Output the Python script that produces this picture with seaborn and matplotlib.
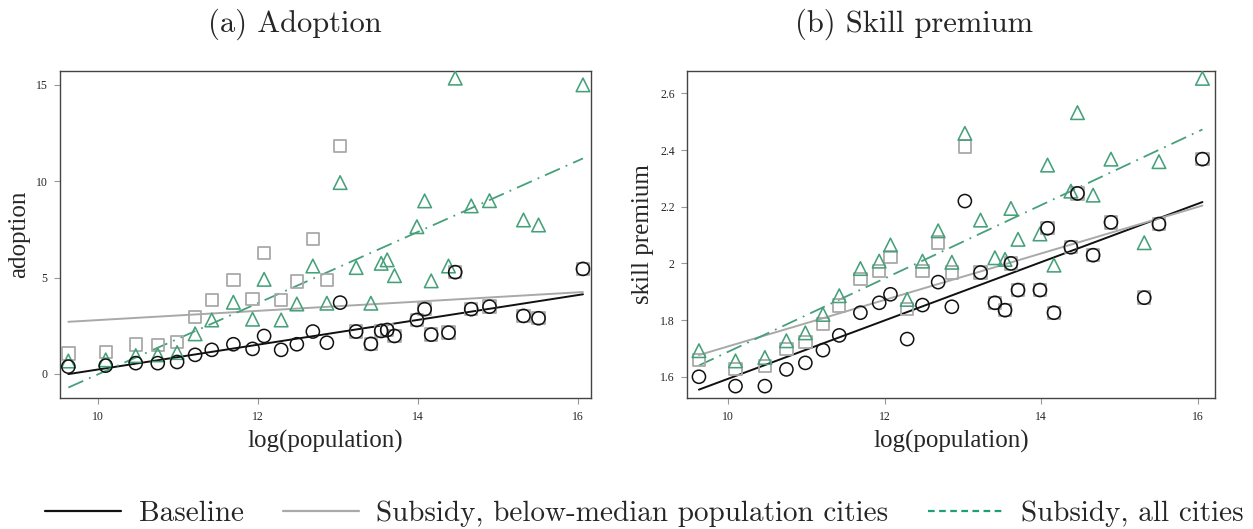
import matplotlib
matplotlib.use("Agg")
import matplotlib.pyplot as plt
from matplotlib.lines import Line2D
from matplotlib.ticker import FuncFormatter
import seaborn as sns
import pandas as pd

sns.set_style("white")
plt.rcParams["font.family"] = ["Liberation Serif", "DejaVu Serif"]

# log population of the 30 cities
log_pop = [9.629, 10.096, 10.471, 10.746, 10.988, 11.213, 11.421, 11.691, 11.931, 12.075,
           12.288, 12.484, 12.684, 12.859, 13.025, 13.225, 13.409, 13.538, 13.613, 13.704,
           13.984, 14.081, 14.163, 14.379, 14.463, 14.663, 14.891, 15.316, 15.504, 16.059]

# adoption
adopt_base = [0.38, 0.43, 0.56, 0.56, 0.62, 0.99, 1.25, 1.54, 1.30, 1.97,
              1.25, 1.54, 2.20, 1.62, 3.70, 2.20, 1.56, 2.23, 2.28, 1.97,
              2.80, 3.36, 2.04, 2.14, 5.28, 3.36, 3.49, 3.01, 2.89, 5.45]
adopt_sub_below = [1.07, 1.13, 1.52, 1.50, 1.66, 2.94, 3.84, 4.86, 3.88, 6.29,
                   3.84, 4.79, 7.01, 4.88, 11.83, 2.20, 1.56, 2.23, 2.28, 1.97,
                   2.80, 3.36, 2.04, 2.14, 5.28, 3.36, 3.49, 3.01, 2.89, 5.45]
adopt_sub_all = [0.67, 0.73, 0.95, 0.99, 1.11, 2.08, 2.80, 3.72, 2.84, 4.91,
                 2.80, 3.63, 5.60, 3.67, 9.93, 5.52, 3.67, 5.74, 5.92, 5.10,
                 7.64, 8.98, 4.83, 5.60, 15.35, 8.72, 8.99, 7.99, 7.73, 15.00]

# skill premium
skill_base = [1.600, 1.567, 1.567, 1.626, 1.649, 1.694, 1.746, 1.826, 1.861, 1.891,
              1.733, 1.853, 1.934, 1.847, 2.220, 1.968, 1.861, 1.835, 2.000, 1.906,
              1.906, 2.124, 1.826, 2.057, 2.247, 2.029, 2.145, 1.879, 2.139, 2.368]
skill_sub_below = [1.659, 1.627, 1.638, 1.697, 1.723, 1.786, 1.851, 1.945, 1.974, 2.023,
                   1.839, 1.974, 2.074, 1.968, 2.412, 1.968, 1.861, 1.835, 2.000, 1.906,
                   1.906, 2.124, 1.826, 2.057, 2.247, 2.029, 2.145, 1.879, 2.139, 2.368]
skill_sub_all = [1.692, 1.656, 1.668, 1.727, 1.755, 1.820, 1.886, 1.982, 2.008, 2.065,
                 1.873, 2.008, 2.115, 2.004, 2.459, 2.153, 2.020, 2.014, 2.194, 2.085,
                 2.104, 2.347, 1.994, 2.255, 2.532, 2.241, 2.368, 2.073, 2.359, 2.653]

scenario_labels = ["Baseline", "Subsidy, below-median population cities", "Subsidy, all cities"]
panel_titles = ["(a) Adoption", "(b) Skill premium"]
y_labels = ["adoption", "skill premium"]
x_label = "log(population)"
x_ticks = [10, 12, 14, 16]
y_ticks_adopt = [0, 5, 10, 15]
y_ticks_skill = [1.6, 1.8, 2.0, 2.2, 2.4, 2.6]

BLACK = "#111111"
GRAY = "#a9a9a9"
GREEN = "#46a07a"
GREEN_LEG = "#1f9e7a"

df_adopt = pd.DataFrame({"x": log_pop, "base": adopt_base,
                         "below": adopt_sub_below, "all": adopt_sub_all})
df_skill = pd.DataFrame({"x": log_pop, "base": skill_base,
                         "below": skill_sub_below, "all": skill_sub_all})

fig = plt.figure(figsize=(12.53, 5.29), dpi=100)
ax_a = fig.add_axes([0.0479, 0.2476, 0.4238, 0.6182])
ax_b = fig.add_axes([0.5485, 0.2476, 0.4212, 0.6182])

dashdot = (0, (9, 3.5, 1, 3.5))


def draw_panel(ax, df):
    # fitted lines
    sns.regplot(data=df, x="x", y="base", ax=ax, scatter=False, ci=None,
                line_kws=dict(color=BLACK, lw=1.4, zorder=2))
    sns.regplot(data=df, x="x", y="below", ax=ax, scatter=False, ci=None,
                line_kws=dict(color=GRAY, lw=1.4, zorder=2))
    sns.regplot(data=df, x="x", y="all", ax=ax, scatter=False, ci=None,
                line_kws=dict(color=GREEN, lw=1.3, linestyle=dashdot, zorder=2))
    # city markers
    sns.scatterplot(data=df, x="x", y="below", ax=ax, marker="s", s=80,
                    facecolor="none", edgecolor=GRAY, linewidth=1.3, zorder=3)
    sns.scatterplot(data=df, x="x", y="all", ax=ax, marker="^", s=95,
                    facecolor="none", edgecolor=GREEN, linewidth=1.15, zorder=4)
    sns.scatterplot(data=df, x="x", y="base", ax=ax, marker="o", s=90,
                    facecolor="none", edgecolor=BLACK, linewidth=1.1, zorder=5)


draw_panel(ax_a, df_adopt)
draw_panel(ax_b, df_skill)

ax_a.set_xlim(9.525, 16.16)
ax_a.set_ylim(-1.25, 15.72)
ax_a.set_yticks(y_ticks_adopt)
ax_b.set_xlim(9.48, 16.22)
ax_b.set_ylim(1.525, 2.679)
ax_b.set_yticks(y_ticks_skill)

fmt = FuncFormatter(lambda v, p: f"{v:g}")
for ax, title, ylab, tx in zip([ax_a, ax_b], panel_titles, y_labels, [0.4416, 0.429]):
    ax.set_xticks(x_ticks)
    ax.xaxis.set_major_formatter(fmt)
    ax.yaxis.set_major_formatter(fmt)
    ax.tick_params(axis="both", which="major", direction="out", length=4,
                   width=0.8, color="#999999", labelsize=8.5, pad=5,
                   bottom=True, left=True)
    for sp in ax.spines.values():
        sp.set_color("#444444")
        sp.set_linewidth(1.0)
    ax.set_xlabel(x_label, fontsize=18, labelpad=5)
    ax.set_ylabel(ylab, fontsize=18, labelpad=4)
    ax.set_title(title, fontsize=22, family="cmr10", pad=28, x=tx)

handles = [Line2D([], [], color=BLACK, lw=1.6),
           Line2D([], [], color=GRAY, lw=1.6),
           Line2D([], [], color=GREEN_LEG, lw=1.6, linestyle=(0, (3, 2)))]
fig.legend(handles, scenario_labels, loc="center", bbox_to_anchor=(0.5145, 0.029),
           ncol=3, frameon=False, handlelength=2.6, handletextpad=0.6,
           columnspacing=1.35, prop={"family": "cmr10", "size": 21})

fig.savefig("out.png", dpi=100)
